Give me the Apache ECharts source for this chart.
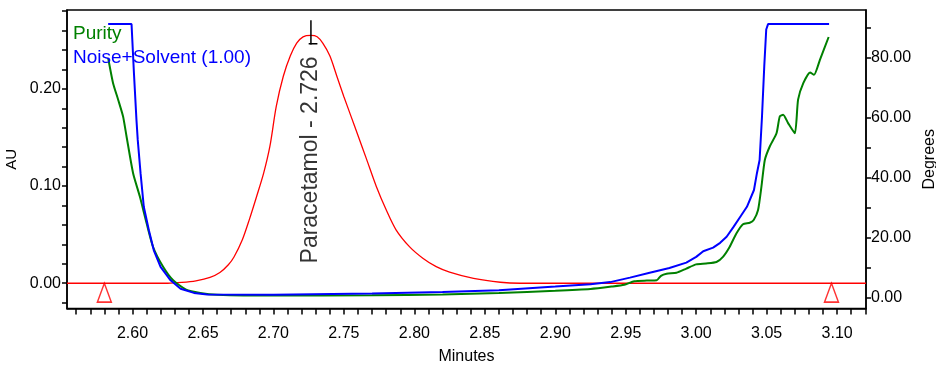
<!DOCTYPE html>
<html>
<head>
<meta charset="utf-8">
<script src="https://cdn.jsdelivr.net/npm/echarts@6/dist/echarts.min.js"></script>
<style>
  html, body { margin: 0; padding: 0; background: #fff; }
  #chart { width: 936px; height: 382px; }
</style>
</head>
<body>
<div id="chart"></div>
<script>
// chromatogram (AU, left axis)
const peakTimes = [2.5535, 2.625, 2.635, 2.645, 2.655, 2.662, 2.668, 2.672, 2.678, 2.683, 2.688, 2.693, 2.6975,
    2.702, 2.707, 2.712, 2.7165, 2.721, 2.7266, 2.731, 2.735, 2.740, 2.745, 2.750, 2.755, 2.760, 2.766, 2.773,
    2.780, 2.787, 2.7965, 2.806, 2.8155, 2.825, 2.842, 2.861, 2.875, 3.1205];
const peakAU = [0, 0, 0.0008, 0.0025, 0.006, 0.011, 0.019, 0.027, 0.045, 0.066, 0.089, 0.113, 0.141,
    0.182, 0.213, 0.234, 0.247, 0.2536, 0.255, 0.2536, 0.247, 0.234, 0.213, 0.192, 0.172, 0.152, 0.128, 0.0996,
    0.0756, 0.055, 0.0377, 0.0258, 0.0171, 0.0115, 0.005, 0.001, 0, 0];

// Noise+Solvent threshold (degrees, right axis)
const noiseTimes = [2.5827, 2.5993, 2.6010, 2.6028, 2.6037, 2.6057, 2.6080, 2.6116, 2.6151, 2.6199, 2.6270,
    2.6341, 2.6436, 2.6530, 2.70, 2.77, 2.82, 2.86, 2.90, 2.925, 2.939, 2.953, 2.967, 2.981, 2.993, 3.0,
    3.005, 3.012, 3.017, 3.0216, 3.0265, 3.0313, 3.036, 3.041, 3.0431, 3.045, 3.0467, 3.0483, 3.0497, 3.051, 3.0943];
const noiseDeg = [91.3, 91.3, 75, 59.3, 52.7, 41.6, 30.4, 22.6, 15.9, 10.4, 5.9,
    3.1, 1.7, 1.2, 1.1, 1.5, 2.0, 2.6, 3.8, 4.6, 5.3, 6.8, 8.4, 10.0, 11.8, 13.7,
    15.6, 16.8, 18.4, 20.4, 23.7, 27.1, 30.4, 36.0, 41.6, 46.0, 60.5, 77.2, 89.5, 91.3, 91.3];

// Purity angle (degrees, right axis)
const purityTimes = [2.5827, 2.5862, 2.5898, 2.5933, 2.5957, 2.6004, 2.6052, 2.6100, 2.6146, 2.6217, 2.6288,
    2.638, 2.648, 2.66, 2.70, 2.77, 2.82, 2.86, 2.90, 2.925, 2.94, 2.949, 2.956, 2.965, 2.972, 2.975, 2.979,
    2.986, 2.993, 3.0, 3.007, 3.0144, 3.019, 3.0237, 3.0285, 3.0332, 3.038, 3.0408, 3.0439, 3.0463, 3.0487,
    3.0522, 3.057, 3.0593, 3.0617, 3.0652, 3.07, 3.0723, 3.076, 3.0808, 3.0836, 3.0878, 3.094];
const purityDeg = [80, 71.6, 66.1, 60.5, 54.0, 41.6, 33.8, 24.9, 17.0, 10.4, 5.9,
    2.8, 1.7, 1.1, 0.8, 0.9, 1.2, 1.7, 2.4, 3.0, 3.8, 4.4, 5.6, 5.8, 5.9, 7.4, 8.1,
    8.4, 9.8, 11.2, 11.5, 12.0, 13.7, 17.0, 21.5, 24.6, 25.1, 26.0, 29.3, 37.1, 46.0,
    50.5, 54.9, 60.5, 61.1, 58.3, 54.9, 66.1, 71.6, 75.2, 74.4, 79.4, 87.0];

// integration start / end marks
const markTimes = [2.58, 3.096];

const peakName = 'Paracetamol';
const peakRT = 2.726;

// tick labels
const xLabels = [2.60, 2.65, 2.70, 2.75, 2.80, 2.85, 2.90, 2.95, 3.00, 3.05, 3.10];
const auLabels = [0.00, 0.10, 0.20];
const degLabels = [0, 20, 40, 60, 80];

// minor tick positions
const xTicks = [];
for (let i = 256; i <= 312; i++) xTicks.push(i / 100);
const auTicks = [];
for (let i = -1; i <= 14; i++) auTicks.push(i * 0.02);
const degTicks = [];
for (let i = 0; i <= 9; i++) degTicks.push(i * 10);

const zip = (a, b) => a.map((v, i) => [v, b[i]]);

const FONT = 'Liberation Sans, Arial, sans-serif';
const chart = echarts.init(document.getElementById('chart'), null, { renderer: 'canvas' });

const option = {
    animation: false,
    textStyle: { fontFamily: FONT },
    grid: {
        left: 67, right: 70, top: 10, bottom: 73.5, containLabel: false, outerBoundsMode: 'none',
        show: true, borderColor: '#000', borderWidth: 1.5
    },
    legend: {
        left: 63, top: 19, orient: 'vertical', icon: 'none',
        itemWidth: 0, itemHeight: 19, itemGap: 5, selectedMode: false,
        textStyle: { fontSize: 19, fontFamily: FONT },
        data: [
            { name: 'Purity', textStyle: { color: '#008000' } },
            { name: 'Noise+Solvent (1.00)', textStyle: { color: '#0000ff' } }
        ]
    },
    xAxis: {
        type: 'value', min: 2.5535, max: 3.1205,
        name: 'Minutes', nameLocation: 'middle', nameGap: 40,
        nameTextStyle: { fontSize: 16, color: '#000' },
        axisLine: { onZero: false, lineStyle: { color: '#000', width: 1.5 } },
        axisTick: { customValues: xTicks, length: 6, lineStyle: { color: '#000', width: 1.5 } },
        axisLabel: { customValues: xLabels, margin: 17, fontSize: 16, color: '#000', formatter: v => v.toFixed(2) },
        splitLine: { show: false }
    },
    yAxis: [
        {
            type: 'value', min: -0.026, max: 0.2812, position: 'left',
            name: 'AU', nameLocation: 'middle', nameRotate: 90, nameGap: 48,
            nameTextStyle: { fontSize: 15, color: '#000' },
            axisLine: { show: true, onZero: false, lineStyle: { color: '#000', width: 1.5 } },
            axisTick: { customValues: auTicks, length: 5, lineStyle: { color: '#000', width: 1.5 } },
            axisLabel: { customValues: auLabels, margin: 6, fontSize: 16, color: '#000', formatter: v => v.toFixed(2) },
            splitLine: { show: false }
        },
        {
            type: 'value', min: -3.5, max: 96, position: 'right',
            name: 'Degrees', nameLocation: 'middle', nameRotate: 90, nameGap: 55,
            nameTextStyle: { fontSize: 16, color: '#000' },
            axisLine: { show: true, onZero: false, lineStyle: { color: '#000', width: 1.5 } },
            axisTick: { customValues: degTicks, length: 5, lineStyle: { color: '#000', width: 1.5 } },
            axisLabel: { customValues: degLabels, margin: 5, fontSize: 16, color: '#000', formatter: v => v.toFixed(2) },
            splitLine: { show: false }
        }
    ],
    series: [
        {
            name: 'Chromatogram', type: 'line', yAxisIndex: 0, symbol: 'none',
            smooth: 0.3,
            lineStyle: { color: '#ff0000', width: 1.3 }, z: 3,
            data: zip(peakTimes, peakAU)
        },
        {
            name: 'Noise+Solvent (1.00)', type: 'line', yAxisIndex: 1, symbol: 'none',
            itemStyle: { color: '#0000ff' }, lineStyle: { color: '#0000ff', width: 2 }, z: 4,
            data: zip(noiseTimes, noiseDeg)
        },
        {
            name: 'Purity', type: 'line', yAxisIndex: 1, symbol: 'none',
            smooth: 0.2,
            itemStyle: { color: '#008000' }, lineStyle: { color: '#008000', width: 2 }, z: 3,
            data: zip(purityTimes, purityDeg)
        },
        {
            name: 'Marks', type: 'scatter', yAxisIndex: 0, symbol: 'triangle',
            symbolSize: [14, 19], symbolOffset: [0, '50%'],
            itemStyle: { color: 'rgba(0,0,0,0)', borderColor: '#ff0000', borderWidth: 1.5 },
            data: markTimes.map(t => [t, 0])
        },
        {
            name: 'PeakLine', type: 'line', yAxisIndex: 0, symbol: 'none', z: 5,
            lineStyle: { color: '#000', width: 1.5 },
            data: [[peakRT + 0.0006, 0.2707], [peakRT + 0.0006, 0.2457]]
        },
        {
            name: 'PeakDash', type: 'line', yAxisIndex: 0, symbol: 'none', z: 5,
            lineStyle: { color: '#000', width: 1.5 },
            data: [[peakRT - 0.001, 0.2464], [peakRT + 0.0052, 0.2464]]
        },
        {
            name: 'PeakLabel', type: 'scatter', yAxisIndex: 0, symbolSize: 1, z: 6,
            itemStyle: { color: 'rgba(0,0,0,0)' },
            label: {
                show: true, position: 'inside', rotate: 90, align: 'right', verticalAlign: 'middle',
                fontSize: 23, color: '#000', fontFamily: FONT,
                formatter: () => peakName + ' - ' + peakRT.toFixed(3)
            },
            data: [[peakRT + 0.0006, 0.2335]]
        }
    ]
};
chart.setOption(option);
</script>
</body>
</html>
